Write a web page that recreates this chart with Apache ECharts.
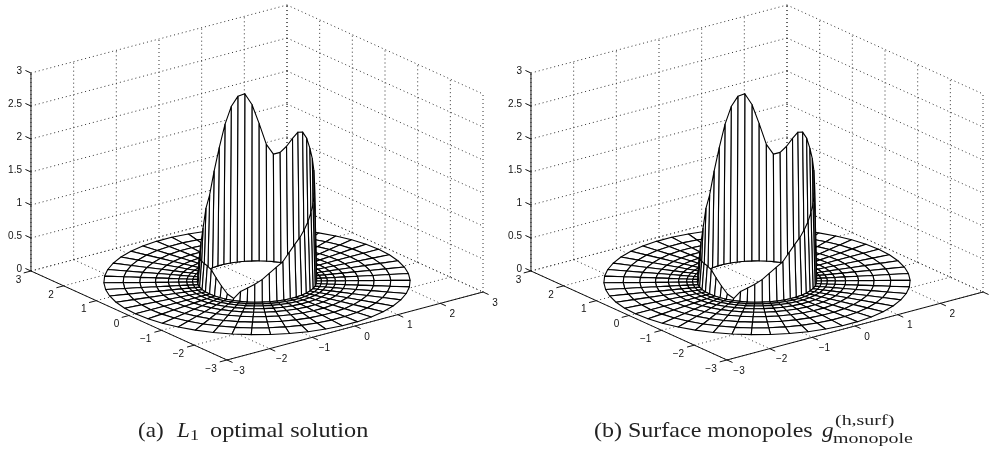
<!DOCTYPE html>
<html><head><meta charset="utf-8">
<style>html,body{margin:0;padding:0;background:#fff}#c{width:990px;height:451px}</style>
<script src="https://cdn.jsdelivr.net/npm/echarts@6/dist/echarts.min.js"></script>
</head><body><div id="c"></div>
<script>
// ---- data ----
const xTicks = [-3,-2,-1,0,1,2,3];
const yTicks = [-3,-2,-1,0,1,2,3];
const zTicks = [0,0.5,1,1.5,2,2.5,3];
const zTickLabels = ['0','0.5','1','1.5','2','2.5','3'];
// radii of the floor rings, outside to inside
const ringRadii = [2.85,2.49,2.18,1.89,1.65,1.46,1.31,1.20,1.11];
const rimRadius = 1.07;
const angleStepDeg = 7.2;
// height of the wall rim, one value per spoke (spoke k sits at k*7.2 degrees)
const rimHeightsA = [2.08,2.05,1.93,1.79,1.68,1.64,1.78,2.09,2.38,2.55,
  2.52,2.38,2.13,1.80,1.47,1.14,0.97,0.70,0.52,0.42,
  0.38,0.38,0.39,0.39,0.39,0.36,0.27,0.17,0.07,0.02,
  0.14,0.20,0.26,0.33,0.42,0.50,0.57,0.69,0.79,0.87,
  0.96,1.05,1.15,1.25,1.37,1.50,1.64,1.78,1.90,2.02];
const rimHeightsB = rimHeightsA.slice();
const captionA = ['(a)','L','1','optimal solution'];
const captionB = ['(b) Surface monopoles','g','(h,surf)','monopole'];

// ---- view (MATLAB default 3-D view of a [-3,3]^2 x [0,3] box), in panel pixels ----
const C = [257,281.5], EX = [42.67,-11.33], EY = [-32.67,-14.83], EZ = -66;
const project = p => [C[0]+p[0]*EX[0]+p[1]*EY[0], C[1]+p[0]*EX[1]+p[1]*EY[1]+p[2]*EZ];
const PANEL_W = [495,490];

function buildSurface(rim){
  const n = rim.length, quads = [];
  const P = (r,k,z)=>{const a=k*angleStepDeg*Math.PI/180;return [r*Math.cos(a),r*Math.sin(a),z];};
  for(let k=0;k<n;k++){
    const k2=(k+1)%n;
    for(let i=0;i<ringRadii.length-1;i++){
      quads.push([P(ringRadii[i],k,0),P(ringRadii[i],k+1,0),P(ringRadii[i+1],k+1,0),P(ringRadii[i+1],k,0)]);
    }
    const r0=ringRadii[ringRadii.length-1];
    quads.push([P(r0,k,0),P(r0,k+1,0),P(rimRadius,k+1,rim[k2]),P(rimRadius,k,rim[k])]);
  }
  const depth=q=>q.reduce((s,p)=>s+project([p[0],p[1],0])[1],0);
  return quads.sort((a,b)=>depth(a)-depth(b));
}
function gridLines(){
  const L=[];
  zTicks.forEach(z=>{L.push([[-3,3,z],[3,3,z]]);L.push([[3,3,z],[3,-3,z]]);});
  xTicks.forEach(x=>{L.push([[x,3,0],[x,3,3]]);L.push([[x,3,0],[x,-3,0]]);});
  yTicks.forEach(y=>{L.push([[3,y,0],[3,y,3]]);L.push([[-3,y,0],[3,y,0]]);});
  return L;
}
function axisLines(){
  const L=[[[-3,3,0],[-3,3,3]],[[-3,3,0],[-3,-3,0]],[[-3,-3,0],[3,-3,0]]];
  zTicks.forEach(z=>L.push([[-3,3,z],[-3,3.17,z]]));
  yTicks.forEach(y=>L.push([[-3,y,0],[-3.17,y,0]]));
  xTicks.forEach(x=>L.push([[x,-3,0],[x,-3.17,0]]));
  return L;
}
function labels(){
  const T=[];
  zTicks.forEach((z,i)=>{const p=project([-3,3,z]);T.push({t:zTickLabels[i],x:p[0]-9,y:p[1]-2,a:'right'});});
  yTicks.forEach(y=>{const p=project([-3,y,0]);const t=y<0?'\u2212'+(-y):''+y;T.push({t,x:p[0]+(y<0?-16:-12.5),y:p[1]+9,a:'center'});});
  xTicks.forEach(x=>{const p=project([x,-3,0]);const t=x<0?'\u2212'+(-x):''+x;T.push({t,x:p[0]+12,y:p[1]+11,a:'center'});});
  return T;
}
const lineSeries=(items,idx,style)=>({
  type:'custom',xAxisIndex:idx,yAxisIndex:idx,silent:true,animation:false,clip:false,
  data:items.map((_,i)=>[i]),encode:{x:-1,y:-1},
  renderItem:(params,api)=>{
    const l=items[params.dataIndex];
    return {type:'polyline',shape:{points:l.map(p=>api.coord(project(p)))},style};
  }
});
const surfaceSeries=(rim,idx)=>{
  const quads=buildSurface(rim);
  return {
    type:'custom',xAxisIndex:idx,yAxisIndex:idx,silent:true,animation:false,clip:false,
    data:quads.map((_,i)=>[i]),encode:{x:-1,y:-1},
    renderItem:(params,api)=>({type:'polygon',
      shape:{points:quads[params.dataIndex].map(p=>api.coord(project(p)))},
      style:{fill:'#fff',stroke:'#000',lineWidth:1.1,lineJoin:'round'}})
  };
};
const labelSeries=(idx)=>{
  const T=labels();
  return {
    type:'custom',xAxisIndex:idx,yAxisIndex:idx,silent:true,animation:false,clip:false,
    data:T.map((_,i)=>[i]),encode:{x:-1,y:-1},
    renderItem:(params,api)=>{
      const t=T[params.dataIndex],c=api.coord([t.x,t.y]);
      return {type:'text',style:{text:t.t,x:c[0],y:c[1],align:t.a,verticalAlign:'middle',
        font:'10px "Liberation Sans"',fill:'#111'}};
    }
  };
};
const txt=(s,x,y,font,sx)=>({type:'text',x,y,scaleX:sx,scaleY:1,silent:true,
  style:{text:s,font,fill:'#222',verticalAlign:'middle',align:'left'}});
const SERIF='"Liberation Serif"';
const option={
  animation:false,backgroundColor:'#fff',
  grid:[{left:0,top:0,width:PANEL_W[0],height:451},{left:500,top:0,width:PANEL_W[1],height:451}],
  xAxis:[0,1].map(i=>({type:'value',gridIndex:i,min:0,max:PANEL_W[i],show:false})),
  yAxis:[0,1].map(i=>({type:'value',gridIndex:i,min:0,max:451,inverse:true,show:false})),
  series:[].concat(...[rimHeightsA,rimHeightsB].map((rim,i)=>[
    lineSeries(gridLines(),i,{stroke:'#333',lineWidth:1,lineDash:[1,3],fill:'none'}),
    lineSeries(axisLines(),i,{stroke:'#111',lineWidth:1,fill:'none'}),
    surfaceSeries(rim,i),
    labelSeries(i)
  ])),
  graphic:[
    txt(captionA[0],138,431,'21px '+SERIF,1.1),
    txt(captionA[1],177,431,'italic 21px '+SERIF,1.1),
    txt(captionA[2],190,436,'15px '+SERIF,1.2),
    txt(captionA[3],210,431,'21px '+SERIF,1.155),
    txt(captionB[0],594,431,'21px '+SERIF,1.143),
    txt(captionB[1],822,431,'italic 21px '+SERIF,1.1),
    txt(captionB[2],835,421,'15px '+SERIF,1.33),
    txt(captionB[3],833,439,'15px '+SERIF,1.33)
  ]
};
echarts.init(document.getElementById('c'),null,{renderer:'canvas'}).setOption(option);
</script></body></html>
